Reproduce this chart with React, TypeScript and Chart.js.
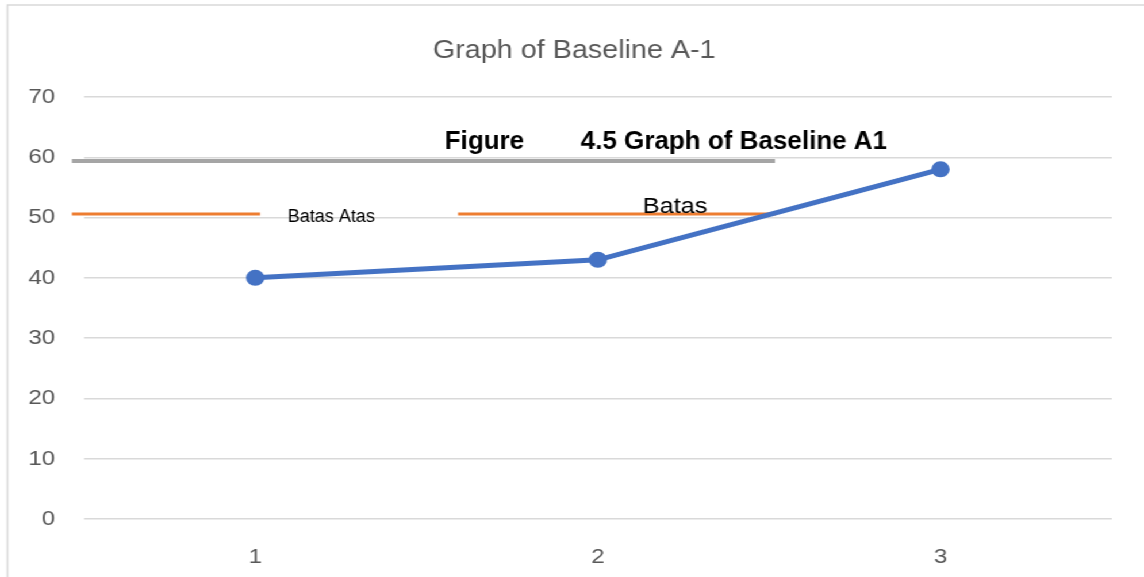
import React, { useEffect, useRef } from 'react';
import { Chart, registerables } from 'chart.js';

Chart.register(...registerables);

const PAGE_W = 1144;
const PAGE_H = 577;
const STRETCH = 1.15;
const CANVAS_W = Math.round(PAGE_W / STRETCH);
const SCALE_X = PAGE_W / CANVAS_W;

const FONT = '"Liberation Sans", Arial, sans-serif';

// Data
const categories = [1, 2, 3];
const baselineValues = [40, 43, 58];
const yTickValues = [0, 10, 20, 30, 40, 50, 60, 70];
const chartTitle = 'Graph of Baseline A-1';

// reference lines (in data units)
const grayLineX = [0.465, 2.517];
const grayLineY = 59.4;
const orangeSeg1X = [0.465, 1.014];
const orangeSeg2X = [1.592, 2.519];
const orangeLineY = 50.6;

// text annotations (anchored in data units)
const annoTexts = ['Figure', '4.5 Graph of Baseline A1', 'Batas Atas', 'Batas'];
const annoX = [1.553, 1.95, 1.095, 2.131];
const annoY = [62.6, 62.6, 50.1, 51.8];
const annoFonts = [`bold 26px ${FONT}`, `bold 26px ${FONT}`, `18px ${FONT}`, `22px ${FONT}`];
const annoUnstretch = [true, true, true, false];

const overlayPlugin = {
  id: 'overlay',
  beforeDraw(chart: any) {
    const ctx = chart.ctx;
    ctx.save();
    ctx.fillStyle = '#ffffff';
    ctx.fillRect(0, 0, chart.width, chart.height);
    ctx.strokeStyle = '#d9d9d9';
    ctx.lineWidth = 1.5;
    ctx.beginPath();
    const bx = 7.5 / SCALE_X;
    ctx.moveTo(bx, chart.height + 10);
    ctx.lineTo(bx, 5);
    ctx.lineTo(chart.width + 10, 5);
    ctx.stroke();
    ctx.restore();
  },
  afterDraw(chart: any) {
    const ctx = chart.ctx;
    ctx.save();
    ctx.fillStyle = '#595959';
    ctx.font = `25px ${FONT}`;
    ctx.textAlign = 'center';
    ctx.textBaseline = 'middle';
    ctx.fillText(chartTitle, chart.width / 2 + 2, 51);
    ctx.restore();

    const xs = chart.scales.x;
    const ys = chart.scales.y;
    annoTexts.forEach((t, i) => {
      const px = xs.getPixelForValue(annoX[i]);
      const py = ys.getPixelForValue(annoY[i]);
      ctx.save();
      ctx.translate(px, py);
      if (annoUnstretch[i]) ctx.scale(1 / SCALE_X, 1);
      ctx.fillStyle = '#000000';
      ctx.font = annoFonts[i];
      ctx.textAlign = 'left';
      ctx.textBaseline = 'middle';
      ctx.fillText(t, 0, 0);
      ctx.restore();
    });
  },
};

export default function App() {
  const canvasRef = useRef<HTMLCanvasElement | null>(null);

  useEffect(() => {
    if (!canvasRef.current) return;
    const chart = new Chart(canvasRef.current, {
      type: 'line',
      data: {
        datasets: [
          {
            label: 'Gray',
            data: grayLineX.map((x) => ({ x, y: grayLineY })),
            borderColor: '#a5a5a5',
            borderWidth: 4,
            pointRadius: 0,
            clip: false as any,
            order: 3,
          },
          {
            label: 'Batas Atas',
            data: [
              ...orangeSeg1X.map((x) => ({ x, y: orangeLineY })),
              { x: (orangeSeg1X[1] + orangeSeg2X[0]) / 2, y: null as any },
              ...orangeSeg2X.map((x) => ({ x, y: orangeLineY })),
            ],
            borderColor: '#ed7d31',
            borderWidth: 3,
            pointRadius: 0,
            spanGaps: false,
            clip: false as any,
            order: 2,
          },
          {
            label: 'Baseline A-1',
            data: categories.map((c, i) => ({ x: c, y: baselineValues[i] })),
            borderColor: '#4472c4',
            backgroundColor: '#4472c4',
            borderWidth: 5,
            pointRadius: 8,
            pointBorderWidth: 0,
            pointBackgroundColor: '#4472c4',
            order: 1,
          },
        ],
      },
      options: {
        animation: false,
        responsive: false,
        maintainAspectRatio: false,
        layout: { padding: { top: 97, right: CANVAS_W - Math.round(1112 / SCALE_X), left: 0, bottom: 0 } },
        plugins: {
          legend: { display: false },
          title: { display: false },
          tooltip: { enabled: false },
        },
        scales: {
          x: {
            type: 'linear',
            min: 0.5,
            max: 3.5,
            afterBuildTicks: (s: any) => {
              s.ticks = categories.map((v) => ({ value: v }));
            },
            afterFit: (s: any) => {
              s.height = PAGE_H - 519;
            },
            grid: { display: false, drawTicks: false },
            border: { display: false },
            ticks: {
              color: '#595959',
              font: { family: FONT, size: 21 },
              padding: 26,
              callback: (v: any) => String(v),
            },
          },
          y: {
            min: 0,
            max: 70,
            afterBuildTicks: (s: any) => {
              s.ticks = yTickValues.map((v) => ({ value: v }));
            },
            afterFit: (s: any) => {
              s.width = Math.round(84 / SCALE_X);
            },
            grid: { color: '#d9d9d9', lineWidth: 1.5, drawTicks: false },
            border: { display: false },
            ticks: {
              color: '#595959',
              font: { family: FONT, size: 21 },
              padding: 25,
            },
          },
        },
      },
      plugins: [overlayPlugin],
    });
    return () => chart.destroy();
  }, []);

  return (
    <div
      style={{
        position: 'fixed',
        left: 0,
        top: 0,
        width: CANVAS_W,
        height: PAGE_H,
        transform: `scaleX(${SCALE_X})`,
        transformOrigin: '0 0',
        background: '#fff',
      }}
    >
      <canvas
        ref={canvasRef}
        width={CANVAS_W}
        height={PAGE_H}
        style={{ display: 'block', width: CANVAS_W, height: PAGE_H }}
      />
    </div>
  );
}
